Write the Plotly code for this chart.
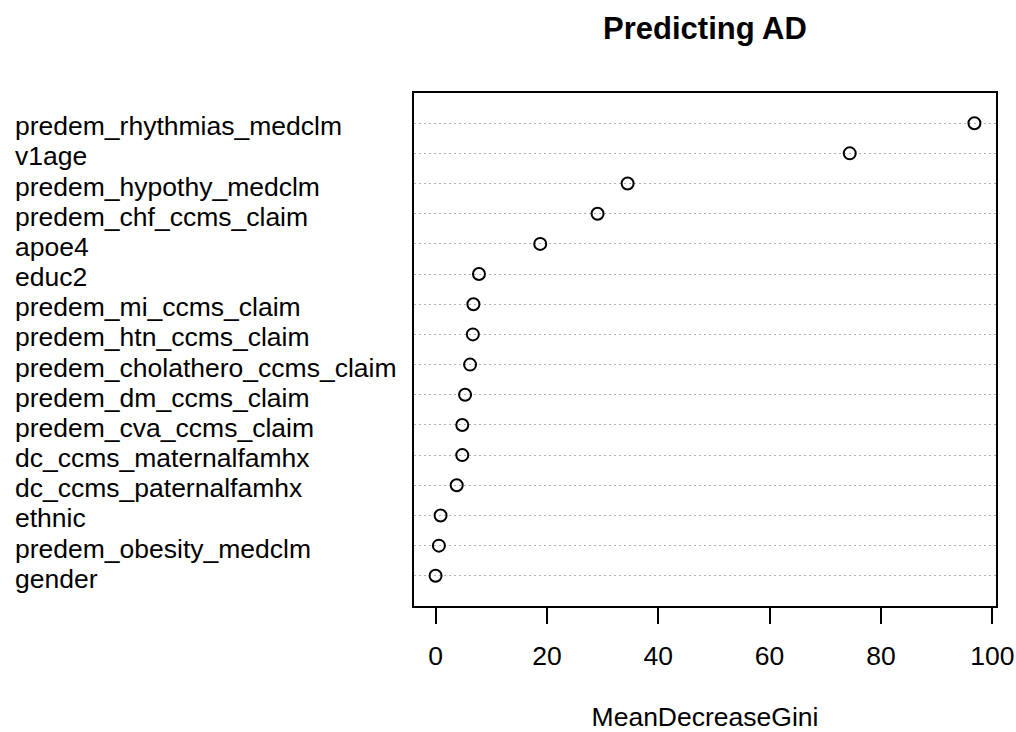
import plotly.graph_objects as go

# Variable importance from the random forest (ordered from most to least important)
variables = [
    "predem_rhythmias_medclm",
    "v1age",
    "predem_hypothy_medclm",
    "predem_chf_ccms_claim",
    "apoe4",
    "educ2",
    "predem_mi_ccms_claim",
    "predem_htn_ccms_claim",
    "predem_cholathero_ccms_claim",
    "predem_dm_ccms_claim",
    "predem_cva_ccms_claim",
    "dc_ccms_maternalfamhx",
    "dc_ccms_paternalfamhx",
    "ethnic",
    "predem_obesity_medclm",
    "gender",
]
mean_decrease_gini = [96.8, 74.4, 34.5, 29.1, 18.8, 7.8, 6.8, 6.7, 6.2, 5.3,
                      4.8, 4.8, 3.8, 0.9, 0.6, 0.0]
x_ticks = [0, 20, 40, 60, 80, 100]

FONT = "Arial, Liberation Sans, sans-serif"
n = len(variables)
rows = [n - i for i in range(n)]  # top row gets the highest position

lo, hi = min(mean_decrease_gini), max(mean_decrease_gini)
pad = 0.04 * (hi - lo)

fig = go.Figure()
fig.add_trace(go.Scatter(
    x=mean_decrease_gini,
    y=rows,
    mode="markers",
    marker=dict(symbol="circle-open", size=12, color="black",
                line=dict(width=2, color="black")),
    hoverinfo="text",
    text=variables,
    showlegend=False,
))

# Row labels, left aligned in the margin
left_px, plot_w = 414, 1016 - 414 - 20
for name, r in zip(variables, rows):
    fig.add_annotation(
        x=(14 - left_px) / plot_w, xref="paper", xanchor="left",
        y=r, yref="y", yanchor="middle", yshift=-3,
        text=name, showarrow=False, borderpad=0,
        font=dict(family=FONT, size=26.5, color="black"),
    )

fig.update_layout(
    width=1016, height=732,
    margin=dict(l=414, r=20, t=93, b=126),
    paper_bgcolor="white", plot_bgcolor="white",
    title=dict(
        text="Predicting AD",
        x=0.5, xref="paper", xanchor="center",
        y=1 - 28 / 732, yref="container", yanchor="middle",
        font=dict(family=FONT, size=31, color="black", weight="bold"),
    ),
    xaxis=dict(
        range=[lo - pad, hi + pad],
        tickvals=x_ticks, ticktext=[str(t) for t in x_ticks],
        ticks="outside", ticklen=16, tickwidth=1.5, tickcolor="black",
        tickfont=dict(family=FONT, size=26.5, color="black"),
        ticklabelstandoff=9,
        showline=True, linecolor="black", linewidth=1.5, mirror=True,
        showgrid=False, zeroline=False, automargin=False,
        title=dict(text="MeanDecreaseGini", standoff=45,
                   font=dict(family=FONT, size=26.5, color="black")),
    ),
    yaxis=dict(
        range=[0, n + 1],
        tickvals=rows, showticklabels=False, ticks="",
        showgrid=True, gridcolor="#B0B0B0", griddash="1.5px,3.5px", gridwidth=1.3,
        showline=True, linecolor="black", linewidth=1.5, mirror=True,
        zeroline=False, automargin=False,
    ),
)

fig.write_html("out.html")
